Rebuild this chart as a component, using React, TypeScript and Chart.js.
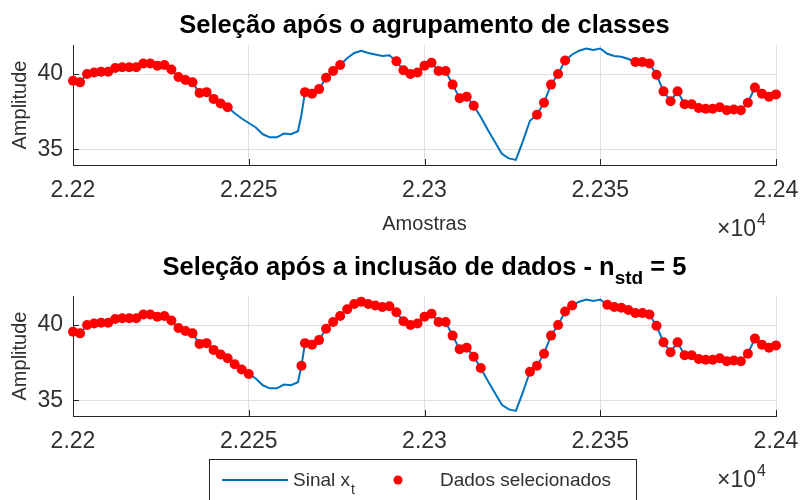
import React, { useEffect, useRef } from 'react';
import { Chart, registerables } from 'chart.js';

Chart.register(...registerables);

// Sample index (x) and amplitude of the signal x_t
const amostras = [
  22200, 22202, 22204, 22206, 22208, 22210, 22212, 22214, 22216, 22218,
  22220, 22222, 22224, 22226, 22228, 22230, 22232, 22234, 22236, 22238,
  22240, 22242, 22244, 22246, 22248, 22250, 22252, 22254, 22256, 22258,
  22260, 22262, 22264, 22265, 22266, 22268, 22270, 22272, 22274, 22276,
  22278, 22280, 22282, 22284, 22286, 22288, 22290, 22292, 22294, 22296,
  22298, 22300, 22302, 22304, 22306, 22308, 22310, 22312, 22314, 22316,
  22318, 22320, 22322, 22324, 22326, 22328, 22330, 22332, 22334, 22336,
  22338, 22340, 22342, 22344, 22346, 22348, 22350, 22352, 22354, 22356,
  22358, 22360, 22362, 22364, 22366, 22368, 22370, 22372, 22374, 22376,
  22378, 22380, 22382, 22384, 22386, 22388, 22390, 22392, 22394, 22396,
  22398, 22400,
];

const amplitude = [
  39.55, 39.45, 40.0, 40.1, 40.15, 40.15, 40.4, 40.45, 40.45, 40.45,
  40.7, 40.7, 40.55, 40.6, 40.3, 39.8, 39.6, 39.45, 38.75, 38.8,
  38.35, 38.05, 37.8, 37.4, 37.05, 36.75, 36.45, 36.0, 35.8, 35.8,
  36.05, 36.0, 36.2, 37.3, 38.8, 38.7, 39.0, 39.75, 40.2, 40.6,
  41.05, 41.4, 41.55, 41.4, 41.3, 41.2, 41.25, 40.85, 40.25, 40.0,
  40.1, 40.55, 40.75, 40.2, 40.2, 39.3, 38.4, 38.5, 37.9, 37.15,
  36.3, 35.5, 34.7, 34.4, 34.3, 35.55, 36.9, 37.3, 38.1, 39.3,
  40.0, 40.9, 41.3, 41.55, 41.7, 41.6, 41.7, 41.35, 41.2, 41.15,
  41.0, 40.8, 40.8, 40.7, 39.95, 38.85, 38.2, 38.85, 38.0, 38.0,
  37.75, 37.7, 37.7, 37.8, 37.6, 37.65, 37.6, 38.1, 39.1, 38.7,
  38.5, 38.65,
];

// Selected sample ranges [first, last]
const selecaoAgrupamento: [number, number][] = [
  [22200, 22244], [22266, 22276], [22292, 22314], [22332, 22340], [22360, 22400],
];
const selecaoInclusao: [number, number][] = [
  [22200, 22250], [22265, 22316], [22330, 22342], [22352, 22400],
];

const xTicks = [22200, 22250, 22300, 22350, 22400];
const xTickLabels = ['2.22', '2.225', '2.23', '2.235', '2.24'];
const yTicks = [35, 40];

const FONT = "'Liberation Sans', Arial, Helvetica, sans-serif";
const AXIS = '#262626';
const TEXT = '#303030';
const GRID = '#dfdfdf';
const BLUE = '#0072BD';
const RED = '#ff0000';

type Part = { text: string; size: number; bold?: boolean; dy?: number };

function drawRich(ctx: CanvasRenderingContext2D, parts: Part[], cx: number, baseline: number, color: string) {
  const fontOf = (p: Part) => `${p.bold ? 'bold ' : ''}${p.size}px ${FONT}`;
  let total = 0;
  for (const p of parts) {
    ctx.font = fontOf(p);
    total += ctx.measureText(p.text).width;
  }
  let x = cx - total / 2;
  ctx.fillStyle = color;
  ctx.textAlign = 'left';
  ctx.textBaseline = 'alphabetic';
  for (const p of parts) {
    ctx.font = fontOf(p);
    ctx.fillText(p.text, x, baseline + (p.dy || 0));
    x += ctx.measureText(p.text).width;
  }
}

interface PanelOpts {
  title: Part[];
  titleBaseline: number;
  xLabel: boolean;
  legend: boolean;
}

function buildPanel(canvas: HTMLCanvasElement, ranges: [number, number][], opts: PanelOpts) {
  const sinal = amostras.map((s, i) => ({ x: s, y: amplitude[i] }));
  const selecionados = sinal.filter((p) => ranges.some(([a, b]) => p.x >= a && p.x <= b));
  const xAxisHeight = canvas.height - 165;

  const decor = {
    id: 'decor',
    afterDraw(chart: any) {
      const ctx: CanvasRenderingContext2D = chart.ctx;
      const area = chart.chartArea;
      const xs = chart.scales.x;
      const ys = chart.scales.y;
      ctx.save();

      // inward tick marks
      ctx.strokeStyle = AXIS;
      ctx.lineWidth = 1;
      ctx.beginPath();
      for (const v of xTicks) {
        const px = Math.round(xs.getPixelForValue(v)) + 0.5;
        ctx.moveTo(px, area.bottom);
        ctx.lineTo(px, area.bottom - 6);
      }
      for (const v of yTicks) {
        const py = Math.round(ys.getPixelForValue(v)) + 0.5;
        ctx.moveTo(area.left, py);
        ctx.lineTo(area.left + 6, py);
      }
      ctx.stroke();

      const cx = (area.left + area.right) / 2;

      // title
      drawRich(ctx, opts.title, cx, opts.titleBaseline, '#000000');

      // y label
      ctx.save();
      ctx.translate(20, (area.top + area.bottom) / 2);
      ctx.rotate(-Math.PI / 2);
      ctx.font = `20px ${FONT}`;
      ctx.fillStyle = TEXT;
      ctx.textAlign = 'center';
      ctx.textBaseline = 'middle';
      ctx.fillText('Amplitude', 0, 0);
      ctx.restore();

      // x label
      if (opts.xLabel) {
        ctx.font = `20px ${FONT}`;
        ctx.fillStyle = TEXT;
        ctx.textAlign = 'center';
        ctx.textBaseline = 'alphabetic';
        ctx.fillText('Amostras', cx, 230);
      }

      // exponent
      ctx.fillStyle = TEXT;
      ctx.textAlign = 'left';
      ctx.textBaseline = 'alphabetic';
      ctx.font = `23px ${FONT}`;
      const base = '\u00d710';
      ctx.fillText(base, 717, 236);
      const w = ctx.measureText(base).width;
      ctx.font = `16px ${FONT}`;
      ctx.fillText('4', 717 + w + 1, 225);

      // legend
      if (opts.legend) {
        const top = 208.5;
        ctx.fillStyle = '#ffffff';
        ctx.fillRect(209.5, top, 427, 60);
        ctx.strokeStyle = AXIS;
        ctx.lineWidth = 1;
        ctx.strokeRect(209.5, top, 427, 60);

        ctx.strokeStyle = BLUE;
        ctx.lineWidth = 2;
        ctx.beginPath();
        ctx.moveTo(222, 229);
        ctx.lineTo(288, 229);
        ctx.stroke();

        ctx.fillStyle = TEXT;
        ctx.font = `19px ${FONT}`;
        ctx.fillText('Sinal x', 293, 235);
        const sw = ctx.measureText('Sinal x').width;
        ctx.font = `14px ${FONT}`;
        ctx.fillText('t', 293 + sw + 1, 243);

        ctx.fillStyle = RED;
        ctx.beginPath();
        ctx.arc(398, 229, 4.5, 0, Math.PI * 2);
        ctx.fill();

        ctx.fillStyle = TEXT;
        ctx.font = `19px ${FONT}`;
        ctx.fillText('Dados selecionados', 440, 235);
      }
      ctx.restore();
    },
  };

  return new Chart(canvas, {
    type: 'scatter',
    data: {
      datasets: [
        {
          label: 'Dados selecionados',
          data: selecionados,
          showLine: false,
          pointRadius: 5,
          pointHoverRadius: 5,
          pointBackgroundColor: RED,
          pointBorderWidth: 0,
          order: 0,
          clip: false,
        } as any,
        {
          label: 'Sinal x_t',
          data: sinal,
          showLine: true,
          borderColor: BLUE,
          borderWidth: 2,
          pointRadius: 0,
          tension: 0,
          order: 1,
        },
      ],
    },
    options: {
      animation: false,
      responsive: false,
      events: [],
      layout: { padding: { top: 45, right: 24, left: 0, bottom: 0 } },
      plugins: {
        legend: { display: false },
        title: { display: false },
        tooltip: { enabled: false },
      },
      scales: {
        x: {
          type: 'linear',
          min: 22200,
          max: 22400,
          afterBuildTicks: (scale: any) => {
            scale.ticks = xTicks.map((v) => ({ value: v }));
          },
          afterFit: (scale: any) => {
            scale.height = xAxisHeight;
            scale.paddingLeft = 0;
            scale.paddingRight = 0;
          },
          grid: { color: GRID, drawTicks: false, lineWidth: 1 },
          border: { display: true, color: AXIS, width: 1 },
          ticks: {
            padding: 12,
            color: TEXT,
            font: { family: FONT, size: 23 },
            maxRotation: 0,
            autoSkip: false,
            callback: (v: any) => {
              const i = xTicks.indexOf(Number(v));
              return i >= 0 ? xTickLabels[i] : '';
            },
          },
        },
        y: {
          type: 'linear',
          min: 33.96,
          max: 41.93,
          afterBuildTicks: (scale: any) => {
            scale.ticks = yTicks.map((v) => ({ value: v }));
          },
          afterFit: (scale: any) => {
            scale.width = 73;
            scale.paddingTop = 0;
            scale.paddingBottom = 0;
          },
          grid: { color: GRID, drawTicks: false, lineWidth: 1 },
          border: { display: true, color: AXIS, width: 1 },
          ticks: {
            padding: 10,
            color: TEXT,
            font: { family: FONT, size: 23 },
            callback: (v: any) => String(v),
          },
        },
      },
    },
    plugins: [decor],
  });
}

export default function App() {
  const topRef = useRef<HTMLCanvasElement>(null);
  const botRef = useRef<HTMLCanvasElement>(null);

  useEffect(() => {
    const a = buildPanel(topRef.current!, selecaoAgrupamento, {
      title: [{ text: 'Seleção após o agrupamento de classes', size: 25.5, bold: true }],
      titleBaseline: 33,
      xLabel: true,
      legend: false,
    });
    const b = buildPanel(botRef.current!, selecaoInclusao, {
      title: [
        { text: 'Seleção após a inclusão de dados - n', size: 25.5, bold: true },
        { text: 'std', size: 19, bold: true, dy: 9 },
        { text: ' = 5', size: 25.5, bold: true },
      ],
      titleBaseline: 24,
      xLabel: false,
      legend: true,
    });
    return () => {
      a.destroy();
      b.destroy();
    };
  }, []);

  return (
    <div
      style={{
        position: 'fixed',
        left: 0,
        top: 0,
        width: 800,
        height: 500,
        background: '#ffffff',
        overflow: 'hidden',
      }}
    >
      <canvas
        ref={topRef}
        width={800}
        height={250}
        style={{ position: 'absolute', left: 0, top: 0, width: 800, height: 250 }}
      />
      <canvas
        ref={botRef}
        width={800}
        height={249}
        style={{ position: 'absolute', left: 0, top: 251, width: 800, height: 249 }}
      />
    </div>
  );
}
